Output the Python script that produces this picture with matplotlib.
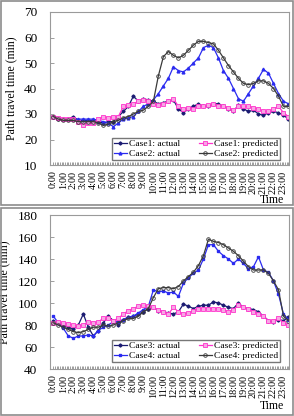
import numpy as np
import matplotlib
matplotlib.use('Agg')
import matplotlib.pyplot as plt
from matplotlib.patches import Rectangle

plt.rcParams['font.family'] = ['Liberation Serif', 'DejaVu Serif']

# half-hour samples, 0:00 .. 23:30
hours = np.arange(48) * 0.5
hour_labels = [f'{h}:00' for h in range(24)]

# ---- top panel (Case1 / Case2) ----
case1_actual = [29, 28, 28, 28, 29, 27.5, 27.5, 27.5, 27.5, 27, 26.5, 27,
                27, 29, 31, 33, 37, 35, 36, 35.5, 35, 34, 34.5, 35,
                35.5, 32, 30.5, 32, 33, 34, 33, 33, 34, 34, 33, 32,
                31, 33.5, 32, 31, 31.5, 30, 29.5, 30.5, 31, 30.5, 29.5, 28]
case1_pred = [29, 28.5, 28, 28, 28, 27, 25.5, 26.5, 26.5, 28, 29, 28.5,
              29, 29, 33, 33.5, 34, 35, 35.5, 35, 34, 33.5, 34, 35,
              36, 33, 32, 32.5, 32, 33, 33, 33.5, 34, 33, 33, 32.5,
              31.5, 33, 33, 33, 32.5, 32, 31, 31, 32, 33, 30.5, 29]
case2_actual = [29, 28.5, 28, 28, 28, 28, 28, 28, 28, 27.5, 27, 26.5,
                25, 26.5, 28, 28.5, 29, 31, 33, 34, 35.5, 38, 41, 44,
                48.5, 47, 46.5, 48, 50, 52, 56, 57, 56, 52, 47, 44,
                40, 36, 35, 38, 41, 44, 47.5, 46, 42, 38, 35, 34]
case2_pred = [29, 28, 27.5, 27.5, 27.5, 27, 27, 27, 27, 26.5, 25.5, 26,
              27, 27.5, 28.5, 29, 30, 31, 31.5, 33, 35, 45, 52.5, 54.5,
              53, 52, 53, 55, 57, 58.5, 58.5, 58, 57.5, 55, 52, 49,
              46.5, 44, 42, 41.5, 42, 43, 43, 42, 40, 37, 33, 33]

# ---- bottom panel (Case3 / Case4) ----
case3_actual = [84, 82, 80, 78, 76, 80, 90, 78, 70, 75, 82, 88,
                84, 80, 85, 87, 88, 90, 92, 95, 96, 93, 92, 91,
                90, 92, 99, 97, 95, 97, 98, 98, 101, 100, 98, 96,
                95, 100, 96, 95, 94, 92, 88, 84, 83, 85, 84, 87]
case3_pred = [82, 83, 82, 81, 80, 79, 80, 83, 82, 83, 86, 86,
              84, 86, 90, 93, 95, 97, 98, 97, 96, 94, 92, 90,
              96, 92, 90, 91, 93, 95, 95, 95, 95, 95, 94, 92,
              94, 98, 96, 95, 92, 90, 88, 84, 84, 86, 82, 80]
case4_actual = [88, 82, 77, 70, 68, 70, 70, 71, 70, 75, 78, 80,
                83, 83, 85, 87, 88, 91, 94, 97, 112, 110, 111, 109,
                110, 106, 118, 123, 127, 130, 140, 153, 153, 147, 143, 140,
                136, 140, 136, 131, 133, 142, 130, 128, 120, 108, 90, 85]
case4_pred = [82, 80, 78, 76, 74, 73, 74, 76, 78, 78, 80, 79,
              80, 82, 84, 86, 86, 88, 92, 95, 105, 113, 114, 114,
              113, 115, 120, 124, 128, 134, 143, 158, 156, 155, 153, 150,
              147, 143, 138, 133, 130, 130, 130, 127, 120, 112, 88, 84]

NAVY = '#1b1b72'
BLUE = '#2b2bf0'
PINK = '#ff33cc'
GREY = '#3a3a3a'

W, H = 294, 416
fig = plt.figure(figsize=(W / 100, H / 100), dpi=100)

# panel frames
for y0, y1 in [(1, 205), (208, 415)]:
    fig.add_artist(Rectangle((1 / W, 1 - y1 / H), 292 / W, (y1 - y0) / H,
                             transform=fig.transFigure, fill=False,
                             edgecolor='#8c8c8c', linewidth=1.2))

ax1 = fig.add_axes([50 / W, 1 - 165 / H, 239 / W, 153 / H])
ax2 = fig.add_axes([50 / W, 1 - 369 / H, 239 / W, 154 / H])


def draw(ax, a1, p1, a2, p2, names, ylim, yticks, m2, leg_bottom):
    la1, = ax.plot(hours, a1, color=NAVY, lw=0.9, marker='D', ms=1.6,
                   label=f'{names[0]}: actual')
    la2, = ax.plot(hours, a2, color=BLUE, lw=0.9, marker=m2, ms=2.0,
                   label=f'{names[1]}: actual')
    lp1, = ax.plot(hours, p1, color=PINK, lw=0.9, marker='s', ms=2.6,
                   mfc='#f7a6e4', mec=PINK, mew=0.6,
                   label=f'{names[0]}: predicted')
    lp2, = ax.plot(hours, p2, color=GREY, lw=0.9, marker='o', ms=2.6,
                   mfc='none', mec=GREY, mew=0.6,
                   label=f'{names[1]}: predicted')
    ax.set_xlim(-0.33, 23.55)
    ax.set_ylim(*ylim)
    ax.set_yticks(yticks)
    ax.set_xticks(range(24))
    ax.set_xticklabels(hour_labels, rotation=90, fontsize=7.3)
    ax.set_xticks(np.arange(0, 23.6, 1 / 6), minor=True)
    ax.tick_params(axis='x', which='both', direction='in', length=2.5,
                   width=0.5, color='#777777', pad=4)
    ax.tick_params(axis='y', direction='in', length=3, width=0.5,
                   color='#777777', labelsize=9.5, pad=9)
    for s in ax.spines.values():
        s.set_color('#9a9a9a')
        s.set_linewidth(0.8)
    ax.set_ylabel('Path travel time (min)', fontsize=8.5, labelpad=5)
    ax.legend(handles=[la1, la2, lp1, lp2], ncol=2, loc='lower right',
              bbox_to_anchor=(230 / 239, leg_bottom), borderaxespad=0,
              fontsize=6.8, frameon=True, fancybox=False, edgecolor='#555555',
              handlelength=1.4, handletextpad=0.2, columnspacing=2.0,
              labelspacing=0.15, borderpad=0.2)


draw(ax1, case1_actual, case1_pred, case2_actual, case2_pred,
     ('Case1', 'Case2'), (10, 70), range(10, 71, 10), '^', 5 / 153)
draw(ax2, case3_actual, case3_pred, case4_actual, case4_pred,
     ('Case3', 'Case4'), (40, 180), range(40, 181, 20), 's', 7 / 154)

fig.text(284 / W, 1 - 203 / H, 'Time', ha='right', va='baseline', fontsize=8.5)
fig.text(284 / W, 1 - 409 / H, 'Time', ha='right', va='baseline', fontsize=8.5)

fig.savefig('out.png', dpi=100)
